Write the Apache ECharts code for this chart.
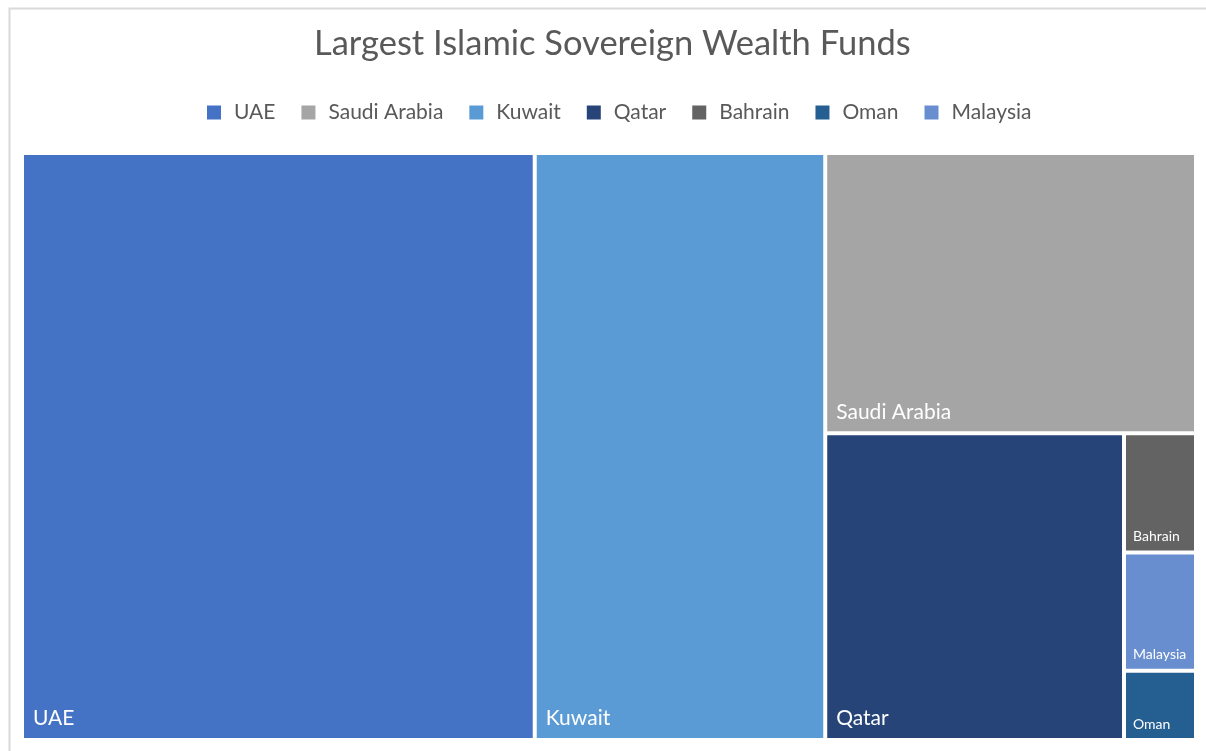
<!DOCTYPE html>
<html>
<head>
<meta charset="utf-8">
<title>Largest Islamic Sovereign Wealth Funds</title>
<script src="https://cdn.jsdelivr.net/npm/echarts@6/dist/echarts.min.js"></script>
<style>
  html, body { margin: 0; padding: 0; background: #fff; }
  #chart { width: 1206px; height: 751px; }
</style>
</head>
<body>
<div id="chart"></div>
<script>
  // legend order (as in the source sheet)
  let countries = ['UAE', 'Saudi Arabia', 'Kuwait', 'Qatar', 'Bahrain', 'Oman', 'Malaysia'];
  // relative fund size
  let fundValues = [1202, 415, 681, 366, 34.3, 19.9, 34.0];
  let countryColors = ['#4472C4', '#A5A5A5', '#5B9BD5', '#264478', '#636363', '#255E91', '#698ED0'];
  // the three small boxes use a smaller label
  let smallLabel = ['Bahrain', 'Oman', 'Malaysia'];

  let chart = echarts.init(document.getElementById('chart'));

  let treeData = countries.map(function (name, i) {
    let item = {
      name: name,
      value: fundValues[i],
      itemStyle: { color: countryColors[i] }
    };
    if (smallLabel.indexOf(name) > -1) {
      item.label = { fontSize: 14, distance: 2 };
    }
    return item;
  });

  // pie with zero radius only feeds the legend (treemap has no legend of its own)
  let legendData = countries.map(function (name, i) {
    return { name: name, value: fundValues[i], itemStyle: { color: countryColors[i] } };
  });

  let option = {
    animation: false,
    graphic: [{
      type: 'rect',
      left: 7, top: 6,
      shape: { width: 1230, height: 780 },
      style: { fill: 'none', stroke: '#d9d9d9', lineWidth: 2 },
      silent: true
    }],
    title: {
      text: 'Largest Islamic Sovereign Wealth Funds',
      left: 309,
      top: 21,
      textStyle: { fontFamily: 'Lato', fontSize: 34.5, fontWeight: 'normal', color: '#595959' }
    },
    legend: {
      data: countries,
      top: 97,
      left: 202,
      icon: 'rect',
      itemWidth: 14,
      itemHeight: 14,
      itemGap: 26,
      selectedMode: false,
      textStyle: { fontFamily: 'Lato', fontSize: 21, color: '#595959', padding: [0, 0, 0, 8] }
    },
    series: [
      {
        type: 'pie',
        radius: [0, 0],
        center: [-100, -100],
        silent: true,
        label: { show: false },
        labelLine: { show: false },
        data: legendData
      },
      {
        type: 'treemap',
        left: 24,
        top: 155,
        width: 1170,
        height: 583,
        roam: false,
        nodeClick: false,
        squareRatio: 1,
        breadcrumb: { show: false },
        emphasis: { disabled: true },
        itemStyle: { borderWidth: 0, gapWidth: 4, borderColor: '#fff' },
        levels: [
          { itemStyle: { borderWidth: 0, gapWidth: 4 } },
          { itemStyle: { borderWidth: 0, gapWidth: 0 } }
        ],
        label: {
          show: true,
          position: 'insideBottomLeft',
          distance: 4,
          color: '#fff',
          fontFamily: 'Lato',
          fontSize: 21
        },
        data: treeData
      }
    ]
  };

  chart.setOption(option);
</script>
</body>
</html>
